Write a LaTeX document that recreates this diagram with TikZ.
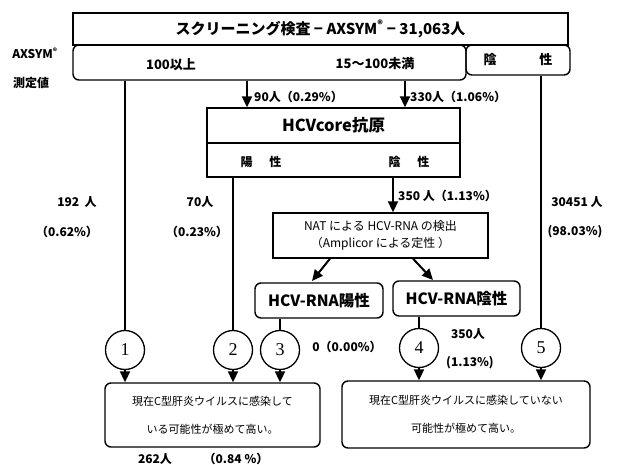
\documentclass[tikz,border=0pt]{standalone}
\usepackage{fontspec}
\setmainfont{Noto Sans CJK JP}
\newfontfamily\serifnum{Liberation Serif}
\usetikzlibrary{arrows.meta,calc}
\begin{document}
\begin{tikzpicture}[x=1pt,y=-1pt,
  box/.style={draw,line width=1.4pt,inner sep=0pt,anchor=center},
  rbox/.style={box,rounded corners=6pt},
  lbl/.style={inner sep=0pt,font=\bfseries\fontsize{12}{14}\selectfont},
  conn/.style={line width=2pt},
  arr/.style={line width=2pt,-{Triangle[length=11pt,width=10pt]}},
  num/.style={draw,circle,line width=1.3pt,minimum size=39pt,inner sep=0pt,font=\serifnum\fontsize{18}{20}\selectfont},
]
\useasboundingbox (0,0) rectangle (618,465);
% top screening box
\node[box,minimum width=495pt,minimum height=32pt] (screen) at (320.5,29)
  {\bfseries\fontsize{15}{17}\selectfont スクリーニング検査 − AXSYM\textsuperscript{®} − 31,063人};
\node[rbox,minimum width=393pt,minimum height=35pt] (range) at (269.5,62.5) {};
\node[rbox,minimum width=104pt,minimum height=30pt] (neg) at (518,60)
  {\bfseries\fontsize{13}{15}\selectfont 陰\hspace{3.3em}性};
\node[lbl,font=\bfseries\fontsize{13}{15}\selectfont] (r100) at (171,65) {100以上};
\node[lbl,font=\bfseries\fontsize{13}{15}\selectfont] (r15) at (375,64) {15〜100未満};
\node[lbl] (axsym) at (35,53) {AXSYM\textsuperscript{®}};
\node[lbl] (meas) at (31,83) {測定値};
% HCV core
\node[box,minimum width=253pt,minimum height=35pt] (coretitle) at (333.5,125.5)
  {\bfseries\fontsize{16.5}{18}\selectfont HCVcore抗原};
\node[box,minimum width=253pt,minimum height=34pt] (coreres) at (333.5,160) {};
\node[lbl] (corepos) at (261,162) {陽\hspace{1.4em}性};
\node[lbl] (coreneg) at (409,162) {陰\hspace{1.4em}性};
% NAT
\node[box,minimum width=215pt,minimum height=45pt,align=center,
  font=\fontsize{12}{17}\selectfont] (nat) at (380.5,235.5)
  {NAT による HCV-RNA の検出\\（Amplicor による定性 ）};
\node[rbox,minimum width=128pt,minimum height=35pt] (rnapos) at (319,300.5)
  {\bfseries\fontsize{15.5}{17}\selectfont HCV-RNA陽性};
\node[rbox,minimum width=127pt,minimum height=35pt] (rnaneg) at (456.5,298.5)
  {\bfseries\fontsize{15.5}{17}\selectfont HCV-RNA陰性};
% circles
\node[num] (c1) at (125,350) {1};
\node[num] (c2) at (233,350) {2};
\node[num] (c3) at (280,350) {3};
\node[num] (c4) at (419,348) {4};
\node[num] (c5) at (541,348) {5};
% result boxes
\node[rbox,minimum width=215pt,minimum height=64pt,align=center,
  font=\fontsize{11}{28}\selectfont] (respos) at (212.5,415)
  {現在C型肝炎ウイルスに感染して\\いる可能性が極めて高い。};
\node[rbox,minimum width=248pt,minimum height=67pt,align=center,
  font=\fontsize{11}{28}\selectfont] (resneg) at (466,414.5)
  {現在C型肝炎ウイルスに感染していない\\可能性が極めて高い。};
% labels
\node[lbl,anchor=west] (l90) at (254,97) {90人（0.29\%）};
\node[lbl,anchor=west] (l330) at (410,97) {330人（1.06\%）};
\node[lbl,anchor=west] (l350) at (398,196) {350 人（1.13\%）};
\node[lbl] (l192) at (77,202) {192\ \ 人};
\node[lbl] (p192) at (67,232) {（0.62\%）};
\node[lbl] (l70) at (200,202) {70人};
\node[lbl] (p70) at (197,232) {（0.23\%）};
\node[lbl] (l30451) at (577,202) {30451 人};
\node[lbl] (p30451) at (575,232) {(98.03\%)};
\node[lbl] (l0) at (347,347) {0（0.00\%）};
\node[lbl] (l350b) at (468,334) {350人};
\node[lbl] (p350b) at (470,363) {(1.13\%)};
\node[lbl] (l262) at (155,459) {262人};
\node[lbl] (p262) at (236,459) {（0.84 \%）};
% connectors
\draw[conn] (c1 |- range.south) -- (c1.north);
\draw[arr] (247,0 |- range.south) -- (247,0 |- coretitle.north);
\draw[arr] (405,0 |- range.south) -- (405,0 |- coretitle.north);
\draw[conn] (c2 |- coreres.south) -- (c2.north);
\draw[arr] (393,0 |- coreres.south) -- (393,0 |- nat.north);
\draw[arr] (330,0 |- nat.south) -- (312,281);
\draw[arr] (413,0 |- nat.south) -- (433,280);
\draw[conn] (c3 |- rnapos.south) -- (c3.north);
\draw[conn] (c4 |- rnaneg.south) -- (c4.north);
\draw[conn] (c5 |- neg.south) -- (c5.north);
\draw[arr] (c1.south) -- (c1 |- respos.north);
\draw[arr] (c2.south) -- (c2 |- respos.north);
\draw[arr] (c3.south) -- (c3 |- respos.north);
\draw[arr] (c4.south) -- (c4 |- resneg.north);
\draw[arr] (c5.south) -- (c5 |- resneg.north);
\end{tikzpicture}
\end{document}
